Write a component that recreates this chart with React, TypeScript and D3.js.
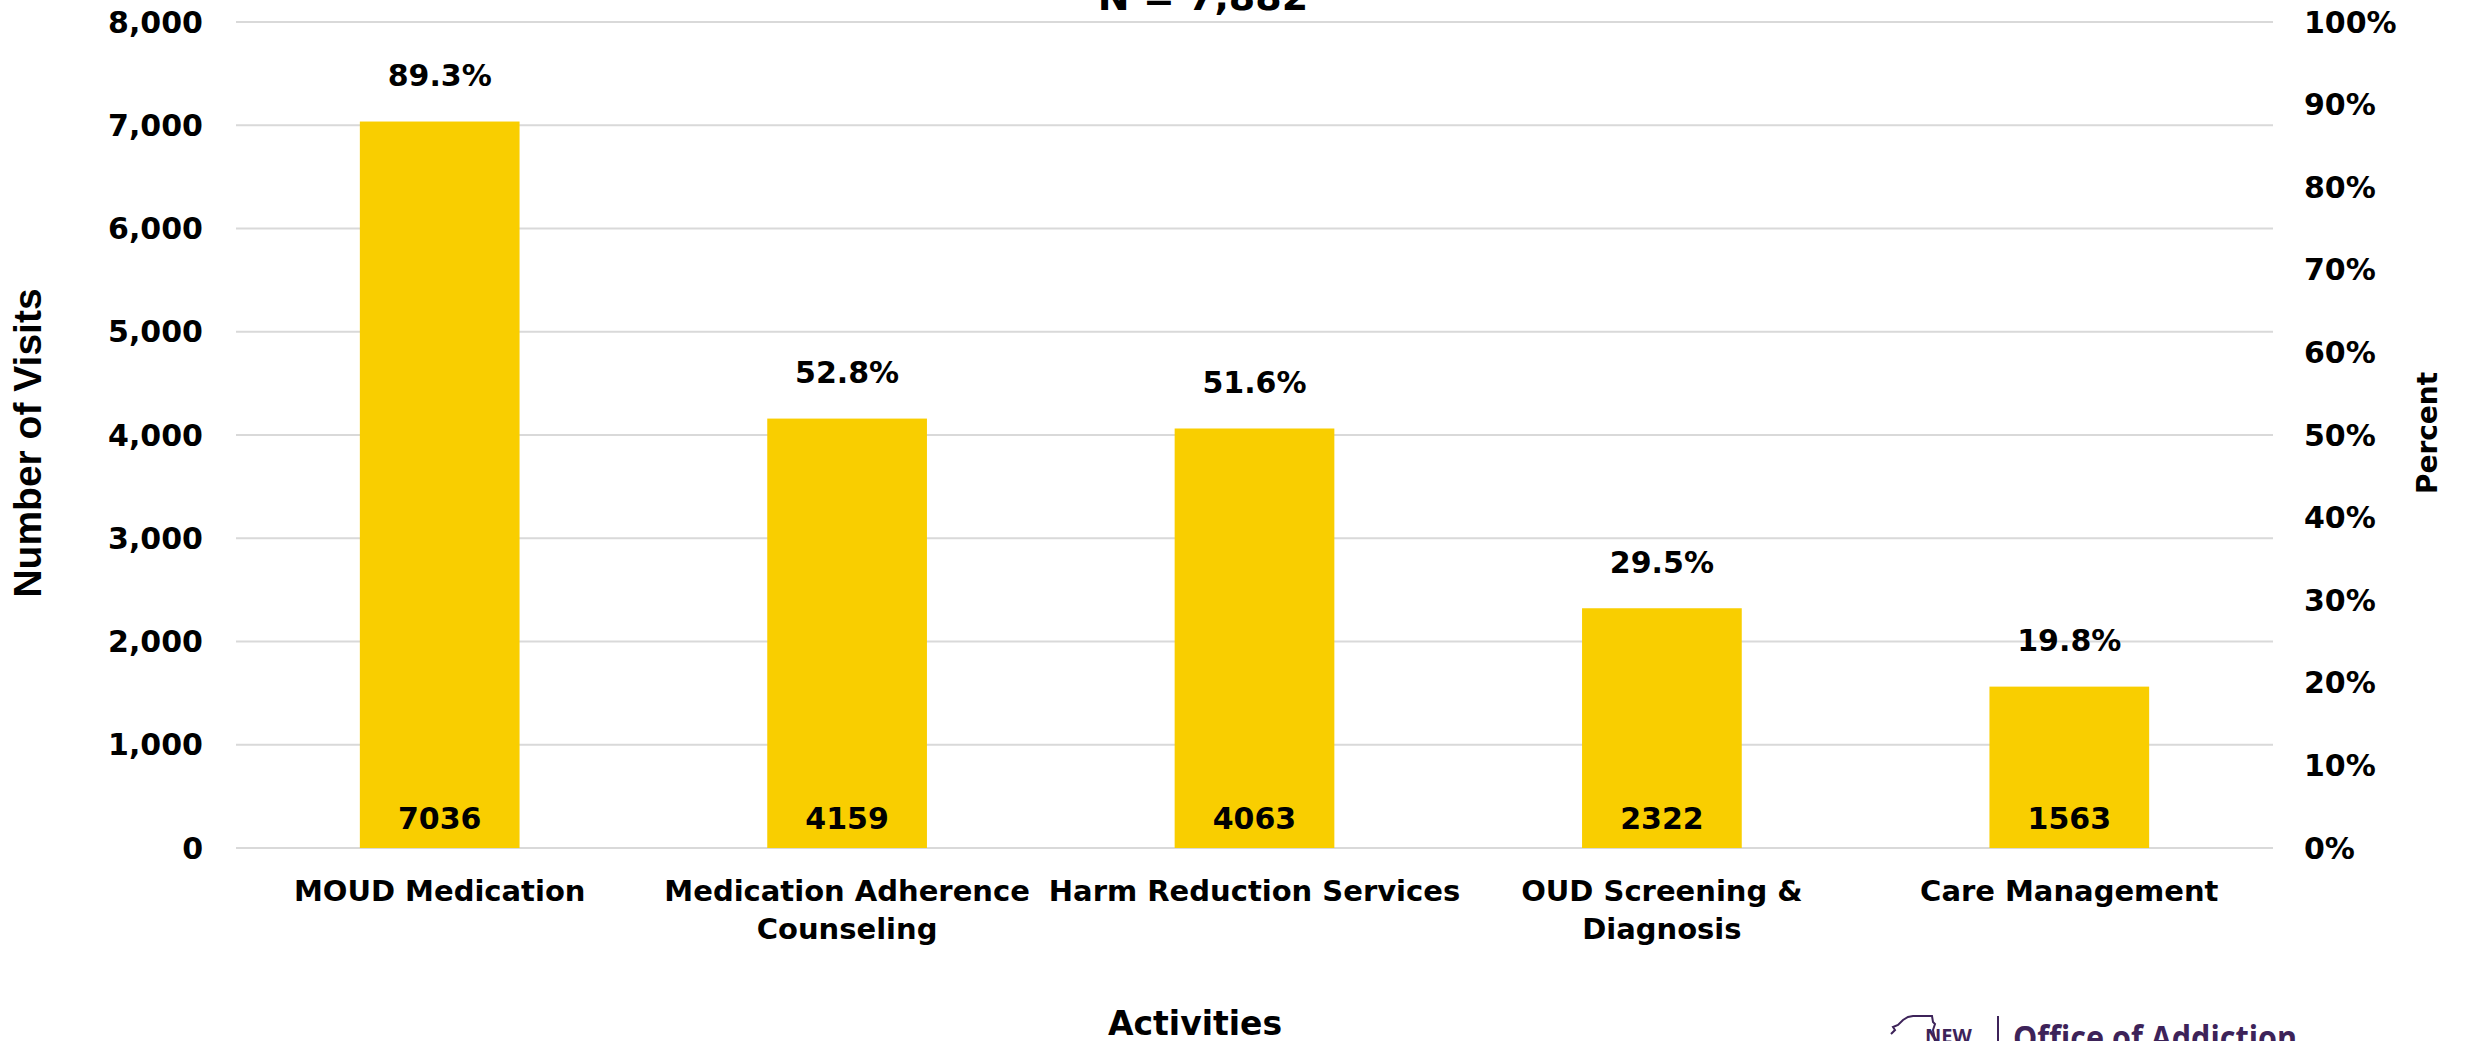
import React from "react";
import * as d3 from "d3";

const categories = ["MOUD Medication", "Medication Adherence Counseling", "Harm Reduction Services", "OUD Screening & Diagnosis", "Care Management"];
const categoryLines = [["MOUD Medication"], ["Medication Adherence", "Counseling"], ["Harm Reduction Services"], ["OUD Screening &", "Diagnosis"], ["Care Management"]];
const visits = [7036, 4159, 4063, 2322, 1563];
const percents = [89.3, 52.8, 51.6, 29.5, 19.8];
const leftTicks = [0, 1000, 2000, 3000, 4000, 5000, 6000, 7000, 8000];
const rightTicks = [0, 10, 20, 30, 40, 50, 60, 70, 80, 90, 100];
const title = "N = 7,882";

const W = 2466, H = 1041;
const X0 = 236, X1 = 2273, Y0 = 848, Y1 = 22;
const FONT = "'DejaVu Sans', Verdana, sans-serif";
const BAR = "#F9CE00";

export default function App() {
  const x = d3.scaleBand<string>().domain(categories).range([X0, X1]).paddingInner(0.608).paddingOuter(0.304);
  const y = d3.scaleLinear().domain([0, 8000]).range([Y0, Y1]);
  const yp = d3.scaleLinear().domain([0, 100]).range([Y0, Y1]);
  const fmt = d3.format(",");
  return (
    <svg width={W} height={H} style={{ position: "absolute", left: 0, top: 0, background: "#fff" }}>
      <rect x={0} y={0} width={W} height={H} fill="#fff" />
      {/* title (cut off) */}
      <text x={1203} y={10} textAnchor="middle" fontFamily={FONT} fontWeight="bold" fontSize={38}>{title}</text>
      {/* gridlines */}
      {leftTicks.map((t) => (
        <line key={t} x1={X0} x2={X1} y1={y(t)} y2={y(t)} stroke="#d9d9d9" strokeWidth={2} />
      ))}
      {/* left tick labels */}
      {leftTicks.map((t) => (
        <text key={t} x={203} y={y(t)} textAnchor="end" dominantBaseline="central" fontFamily={FONT} fontWeight="bold" fontSize={30}>{fmt(t)}</text>
      ))}
      {/* right tick labels */}
      {rightTicks.map((t) => (
        <text key={t} x={2304} y={yp(t)} textAnchor="start" dominantBaseline="central" fontFamily={FONT} fontWeight="bold" fontSize={30}>{t + "%"}</text>
      ))}
      {/* bars */}
      {categories.map((c, i) => (
        <rect key={c} x={x(c)} y={y(visits[i])} width={x.bandwidth()} height={Y0 - y(visits[i])} fill={BAR} />
      ))}
      {/* value labels inside bars */}
      {categories.map((c, i) => (
        <text key={c} x={(x(c) as number) + x.bandwidth() / 2} y={829} textAnchor="middle" fontFamily={FONT} fontWeight="bold" fontSize={30}>{visits[i]}</text>
      ))}
      {/* percent labels */}
      {categories.map((c, i) => (
        <text key={c} x={(x(c) as number) + x.bandwidth() / 2} y={y(visits[i]) - 35.6} textAnchor="middle" fontFamily={FONT} fontWeight="bold" fontSize={30}>{percents[i].toFixed(1) + "%"}</text>
      ))}
      {/* category labels */}
      {categories.map((c, i) => (
        <text key={c} x={(x(c) as number) + x.bandwidth() / 2} y={901} textAnchor="middle" fontFamily={FONT} fontWeight="bold" fontSize={29}>
          {categoryLines[i].map((l, j) => (
            <tspan key={j} x={(x(c) as number) + x.bandwidth() / 2} dy={j === 0 ? 0 : 38}>{l}</tspan>
          ))}
        </text>
      ))}
      {/* axis titles */}
      <text transform="translate(41,443) rotate(-90)" textAnchor="middle" fontFamily="'Liberation Sans', Arial, sans-serif" fontWeight="bold" fontSize={39}>Number of Visits</text>
      <text transform="translate(2437,433) rotate(-90)" textAnchor="middle" fontFamily={FONT} fontWeight="bold" fontSize={28}>Percent</text>
      <text x={1195} y={1035} textAnchor="middle" fontFamily={FONT} fontWeight="bold" fontSize={33}>Activities</text>
      {/* logo */}
      <g fill="none" stroke="#3d2359" strokeWidth={2}>
        <path d="M1891,1034 L1895,1030 L1893,1027 L1898,1025 L1903,1020 L1908,1017 L1913,1016 L1932,1016 L1933,1022 L1935,1024 L1933,1030 L1935,1041" />
      </g>
      <text x={1925} y={1043} fontFamily="'Open Sans', sans-serif" fontWeight="bold" fontSize={20} fill="#3d2359">NEW</text>
      <line x1={1998} x2={1998} y1={1016} y2={1041} stroke="#3d2359" strokeWidth={2} />
      <text x={2013} y={1050} fontFamily="'Open Sans', sans-serif" fontWeight="bold" fontSize={34} fill="#3d2359" textLength={284} lengthAdjust="spacingAndGlyphs">Office of Addiction</text>
    </svg>
  );
}
